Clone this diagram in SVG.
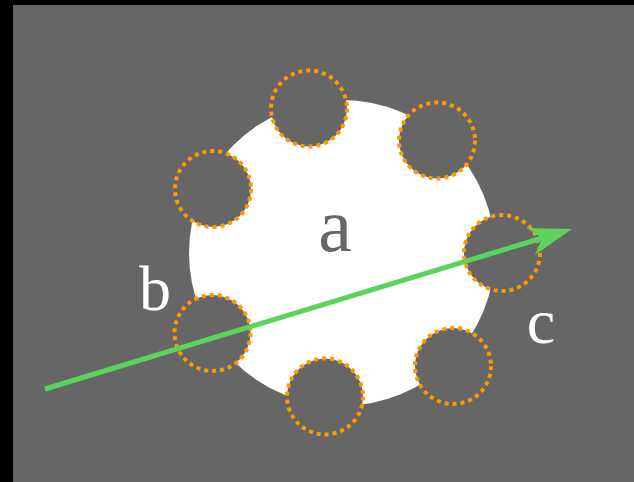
<svg xmlns="http://www.w3.org/2000/svg" width="634" height="482" viewBox="0 0 634 482">
<style>
.sat{fill:#666666;stroke:#FF9900;stroke-width:4;stroke-dasharray:4 4}
.lbl{font-family:"Liberation Serif","Times New Roman",serif;text-anchor:middle}
</style>
<defs>
<marker id="ah" markerUnits="userSpaceOnUse" markerWidth="44" markerHeight="30" viewBox="0 0 44 30" refX="12" refY="14" orient="auto">
<path d="M0,0 L43,14 L0,28 L12,14 z" fill="#5CD35C"/>
</marker>
</defs>
<rect x="0" y="0" width="634" height="482" fill="#000000"/>
<rect x="13" y="5" width="621" height="477" fill="#666666"/>
<g id="a">
<circle cx="342" cy="253" r="153" fill="#ffffff"/>
<text class="lbl" x="335" y="251" font-size="76" fill="#666666">a</text>
</g>
<g id="s1"><circle class="sat" cx="309" cy="108.5" r="38"/></g>
<g id="s2"><circle class="sat" cx="437" cy="140.5" r="38"/></g>
<g id="s3"><circle class="sat" cx="213" cy="189" r="38"/></g>
<g id="s4"><circle class="sat" cx="502" cy="253" r="38"/></g>
<g id="s5"><circle class="sat" cx="212.5" cy="333" r="38"/></g>
<g id="s6"><circle class="sat" cx="325" cy="396.5" r="38"/></g>
<g id="s7"><circle class="sat" cx="453" cy="366" r="38"/></g>
<g id="b"><text class="lbl" x="155" y="310" font-size="64" fill="#ffffff">b</text></g>
<g id="c"><text class="lbl" x="541" y="343" font-size="64" fill="#ffffff">c</text></g>
<g id="connectors">
<line x1="45" y1="389" x2="542.3" y2="238" stroke="#5CD35C" stroke-width="5" marker-end="url(#ah)"/>
</g>
</svg>
